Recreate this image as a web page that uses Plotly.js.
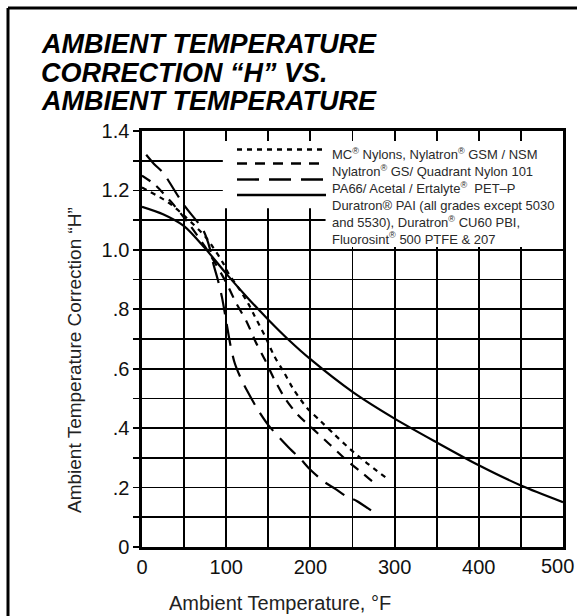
<!DOCTYPE html>
<html>
<head>
<meta charset="utf-8">
<script src="https://cdn.plot.ly/plotly-3.0.1.min.js"></script>
<style>body{margin:0;background:#fff}#chart{width:577px;height:616px}</style>
</head>
<body>
<div id="chart"></div>
<script>
// ---- data ----
const xTickVals = [0, 50, 100, 150, 200, 250, 300, 350, 400, 450, 500];
const xTickText = ['0', '', '100', '', '200', '', '300', '', '400', '', '500'];
const yTickVals = [0, 0.1, 0.2, 0.3, 0.4, 0.5, 0.6, 0.7, 0.8, 0.9, 1.0, 1.1, 1.2, 1.3, 1.4];
const yTickText = ['0', '', '.2', '', '.4', '', '.6', '', '.8', '', '1.0', '', '1.2', '', '1.4'];

// MC Nylons, Nylatron GSM / NSM (dotted)
const tempMC = [0, 31, 52, 75, 85, 96, 103, 115, 126, 134, 146, 157, 169, 179, 196, 212, 228, 247, 266, 289];
const hMC    = [1.21, 1.16, 1.11, 1.045, 1.006, 0.957, 0.919, 0.87, 0.82, 0.776, 0.71, 0.643, 0.586, 0.535, 0.468, 0.424, 0.38, 0.33, 0.285, 0.235];

// Nylatron GS / Quadrant Nylon 101 (short dash)
const tempGS = [0, 15, 35, 55, 75, 88, 100, 112, 124, 135, 146, 157, 170, 185, 204, 223, 243, 262, 276];
const hGS    = [1.25, 1.22, 1.16, 1.09, 1.01, 0.95, 0.89, 0.82, 0.76, 0.69, 0.63, 0.565, 0.50, 0.445, 0.395, 0.345, 0.292, 0.248, 0.215];

// PA66 / Acetal / Ertalyte PET-P (long dash)
const tempPA = [5, 14, 25, 32, 50, 72, 79, 85, 90, 95, 100, 105, 110, 117, 126, 138, 150, 161, 176, 188, 200, 216, 230, 243, 255, 272];
const hPA    = [1.32, 1.29, 1.26, 1.23, 1.15, 1.07, 1.02, 0.95, 0.90, 0.84, 0.76, 0.68, 0.62, 0.57, 0.52, 0.46, 0.41, 0.375, 0.33, 0.297, 0.26, 0.22, 0.195, 0.17, 0.155, 0.123];

// Duratron PAI, CU60 PBI, Fluorosint (solid)
const tempDur = [0, 25, 50, 75, 100, 125, 150, 175, 200, 250, 300, 350, 400, 450, 500];
const hDur    = [1.145, 1.12, 1.08, 1.005, 0.92, 0.84, 0.765, 0.695, 0.632, 0.522, 0.432, 0.352, 0.275, 0.207, 0.151];

const titleLines = ['AMBIENT TEMPERATURE', 'CORRECTION \u201CH\u201D VS.', 'AMBIENT TEMPERATURE'];
const legendLines = [
  'MC<sup>\u00AE</sup> Nylons, Nylatron<sup>\u00AE</sup> GSM / NSM',
  'Nylatron<sup>\u00AE</sup> GS/ Quadrant Nylon 101',
  'PA66/ Acetal / Ertalyte<sup>\u00AE</sup>  PET\u2013P',
  'Duratron\u00AE PAI (all grades except 5030',
  'and 5530), Duratron<sup>\u00AE</sup> CU60 PBI,',
  'Fluorosint<sup>\u00AE</sup> 500 PTFE &amp; 207'
];
const xTitle = 'Ambient Temperature, \u00B0F';
const yTitle = 'Ambient Temperature Correction \u201CH\u201D';

// ---- styles ----
const FONT = 'Liberation Sans, Arial, Helvetica, sans-serif';
const W = 577, H = 616, ML = 142, MR = 14, MT = 131, MB = 69;
const PW = W - ML - MR, PH = H - MT - MB;
const px = v => (v - ML) / PW;          // pixel x -> paper
const py = v => (H - MB - v) / PH;      // pixel y -> paper

const dashes = ['5px,5px', '10px,8px', '22px,10px', 'solid'];
const series = [[tempMC, hMC], [tempGS, hGS], [tempPA, hPA], [tempDur, hDur]];

const traces = series.map((s, i) => ({
  x: s[0], y: s[1], type: 'scatter', mode: 'lines',
  line: {color: '#000', width: 2.2, dash: dashes[i], shape: 'spline', smoothing: 0.8},
  hoverinfo: 'skip'
}));

const shapes = [];
// white legend panels covering the grid
shapes.push({type: 'rect', xref: 'x', yref: 'y', x0: 96, x1: 500, y0: 1.14, y1: 1.4,
  fillcolor: '#fff', line: {width: 0}, layer: 'between'});
shapes.push({type: 'rect', xref: 'x', yref: 'y', x0: 218, x1: 500, y0: 1.01, y1: 1.4,
  fillcolor: '#fff', line: {width: 0}, layer: 'between'});
// legend samples
const sampleY = [149.5, 163.5, 179.5, 195];
sampleY.forEach((yy, i) => {
  shapes.push({type: 'line', xref: 'paper', yref: 'paper', x0: px(237), x1: px(326), y0: py(yy), y1: py(yy),
    line: {color: '#000', width: 2.4, dash: dashes[i]}});
});
// outer frame
shapes.push({type: 'line', xref: 'paper', yref: 'paper', x0: px(8), x1: px(590), y0: py(8), y1: py(8),
  line: {color: '#000', width: 3}});
shapes.push({type: 'line', xref: 'paper', yref: 'paper', x0: px(8), x1: px(8), y0: py(8), y1: py(630),
  line: {color: '#000', width: 3}});

const annotations = [];
const titleY = [44, 73, 101];
titleLines.forEach((t, i) => annotations.push({
  xref: 'paper', yref: 'paper', x: px(39), y: py(titleY[i]), xanchor: 'left', yanchor: 'middle',
  text: '<b><i>' + t + '</i></b>', showarrow: false,
  font: {family: FONT, size: 27, color: '#000'}
}));
annotations.push({
  xref: 'paper', yref: 'paper', x: px(330), y: py(196), xanchor: 'left', yanchor: 'middle',
  text: legendLines.join('<br>'), showarrow: false, align: 'left',
  font: {family: FONT, size: 13, color: '#2a2a2a'}
});
annotations.push({xref: 'paper', yref: 'paper', x: px(280), y: py(603), xanchor: 'center', yanchor: 'middle',
  text: xTitle, showarrow: false, font: {family: FONT, size: 20, color: '#222'}});
annotations.push({xref: 'paper', yref: 'paper', x: px(74), y: py(360), xanchor: 'center', yanchor: 'middle',
  text: yTitle, showarrow: false, textangle: -90, font: {family: FONT, size: 19, color: '#222'}});
// last x tick label, pulled inside the page edge
const lastTick = xTickText.length - 1;
annotations.push({xref: 'x', yref: 'paper', x: xTickVals[lastTick], xshift: -6, y: py(566), xanchor: 'center', yanchor: 'middle',
  text: xTickText[lastTick], showarrow: false, font: {family: FONT, size: 20, color: '#111'}});
const shownXTickText = xTickText.map((t, i) => i === lastTick ? '' : t);

const axisCommon = {
  showgrid: true, gridcolor: '#000', gridwidth: 1.8,
  showline: true, linecolor: '#000', linewidth: 2.6,
  zeroline: false, tickcolor: '#000', tickwidth: 1.8,
  tickfont: {family: FONT, size: 20, color: '#111'}, fixedrange: true
};

const layout = {
  width: W, height: H,
  margin: {l: ML, r: MR, t: MT, b: MB, pad: 0},
  paper_bgcolor: '#fff', plot_bgcolor: '#fff',
  showlegend: false,
  font: {family: FONT, color: '#111'},
  xaxis: Object.assign({}, axisCommon, {
    range: [0, 500], tickmode: 'array', tickvals: xTickVals, ticktext: shownXTickText,
    ticks: 'inside', ticklen: 10, mirror: 'ticks'
  }),
  yaxis: Object.assign({}, axisCommon, {
    range: [0, 1.4], tickmode: 'array', tickvals: yTickVals, ticktext: yTickText,
    ticks: 'outside', ticklen: 6, mirror: true
  }),
  shapes: shapes,
  annotations: annotations
};

Plotly.newPlot('chart', traces, layout, {staticPlot: true, displayModeBar: false});
</script>
</body>
</html>
